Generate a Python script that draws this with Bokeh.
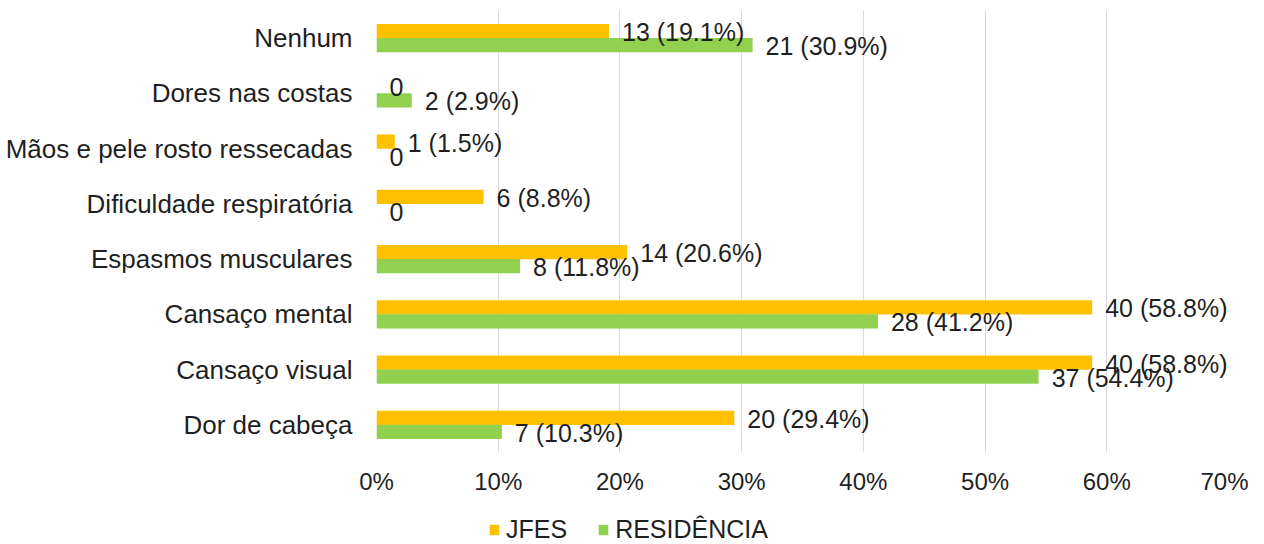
from bokeh.plotting import figure
from bokeh.layouts import column
from bokeh.models import (ColumnDataSource, FixedTicker, PrintfTickFormatter,
                          Legend, LegendItem)
from bokeh.transform import dodge
from bokeh.core.properties import value
from bokeh.embed import file_html
from bokeh.resources import INLINE

categories = ["Dor de cabeça", "Cansaço visual", "Cansaço mental",
              "Espasmos musculares", "Dificuldade respiratória",
              "Mãos e pele rosto ressecadas", "Dores nas costas", "Nenhum"]
jfes_count = [20, 40, 40, 14, 6, 1, 0, 13]
jfes_pct = [29.4, 58.8, 58.8, 20.6, 8.8, 1.5, 0.0, 19.1]
res_count = [7, 37, 28, 8, 0, 0, 2, 21]
res_pct = [10.3, 54.4, 41.2, 11.8, 0.0, 0.0, 2.9, 30.9]
x_ticks = [0, 10, 20, 30, 40, 50, 60, 70]
series_names = ["JFES", "RESIDÊNCIA"]
colors = ["#FFC000", "#92D050"]


def lab(c, p):
    return "0" if c == 0 else f"{c} ({p:.1f}%)"


src = ColumnDataSource(dict(
    cat=categories,
    jp=jfes_pct, rp=res_pct,
    jl=[lab(c, p) for c, p in zip(jfes_count, jfes_pct)],
    rl=[lab(c, p) for c, p in zip(res_count, res_pct)],
))

FONT = "Liberation Sans"
TXT = "#1f1f1f"

p = figure(width=1248, height=508, y_range=categories, x_range=(0, 70),
           output_backend="svg", toolbar_location=None,
           min_border_left=376, min_border_right=20, min_border_top=10,
           min_border_bottom=56)
p.outline_line_color = None

r1 = p.hbar(y=dodge("cat", 0.127, range=p.y_range), left=0, right="jp",
            height=0.255, color=colors[0], line_color=None, source=src)
r2 = p.hbar(y=dodge("cat", -0.127, range=p.y_range), left=0, right="rp",
            height=0.255, color=colors[1], line_color=None, source=src)

p.text(x="jp", y=dodge("cat", 0.127, range=p.y_range), text="jl", source=src,
       x_offset=13, y_offset=1, text_baseline="middle", text_align="left",
       text_font=value(FONT), text_font_size="25px", text_color=TXT)
p.text(x="rp", y=dodge("cat", -0.127, range=p.y_range), text="rl", source=src,
       x_offset=13, y_offset=1, text_baseline="middle", text_align="left",
       text_font=value(FONT), text_font_size="25px", text_color=TXT)

p.xaxis.ticker = FixedTicker(ticks=x_ticks)
p.xaxis.formatter = PrintfTickFormatter(format="%d%%")
p.xaxis.axis_line_color = None
p.xaxis.major_tick_line_color = None
p.xaxis.minor_tick_line_color = None
p.xaxis.major_label_text_font = FONT
p.xaxis.major_label_text_font_size = "24px"
p.xaxis.major_label_text_color = TXT
p.xaxis.major_label_standoff = 9

p.yaxis.axis_line_color = None
p.yaxis.major_tick_line_color = None
p.yaxis.minor_tick_line_color = None
p.yaxis.major_label_text_font = FONT
p.yaxis.major_label_text_font_size = "26px"
p.yaxis.major_label_text_color = TXT
p.yaxis.major_label_standoff = 18

p.xgrid.grid_line_color = "#d9d9d9"
p.ygrid.grid_line_color = None

# legend strip below the chart (frame aligned with the chart's frame)
pl = figure(width=1248, height=36, x_range=(0, 1), y_range=(0, 1),
            output_backend="svg", toolbar_location=None,
            x_axis_location=None, y_axis_location=None,
            min_border_left=376, min_border_right=20, min_border_top=0,
            min_border_bottom=0)
pl.outline_line_color = None
pl.grid.grid_line_color = None
l1 = pl.hbar(y=[-10], left=[-10], right=[-10], height=0.1,
             color=colors[0], line_color=None)
l2 = pl.hbar(y=[-10], left=[-10], right=[-10], height=0.1,
             color=colors[1], line_color=None)
legend = Legend(items=[LegendItem(label=series_names[0], renderers=[l1]),
                       LegendItem(label=series_names[1], renderers=[l2])],
                orientation="horizontal", location=(112, 0),
                glyph_width=12, glyph_height=13, label_standoff=6,
                spacing=30, padding=0, margin=0,
                border_line_color=None, background_fill_alpha=0,
                label_text_font=FONT, label_text_font_size="25px",
                label_text_color=TXT)
pl.add_layout(legend)

open("out.html", "w").write(file_html(column(p, pl), INLINE))
